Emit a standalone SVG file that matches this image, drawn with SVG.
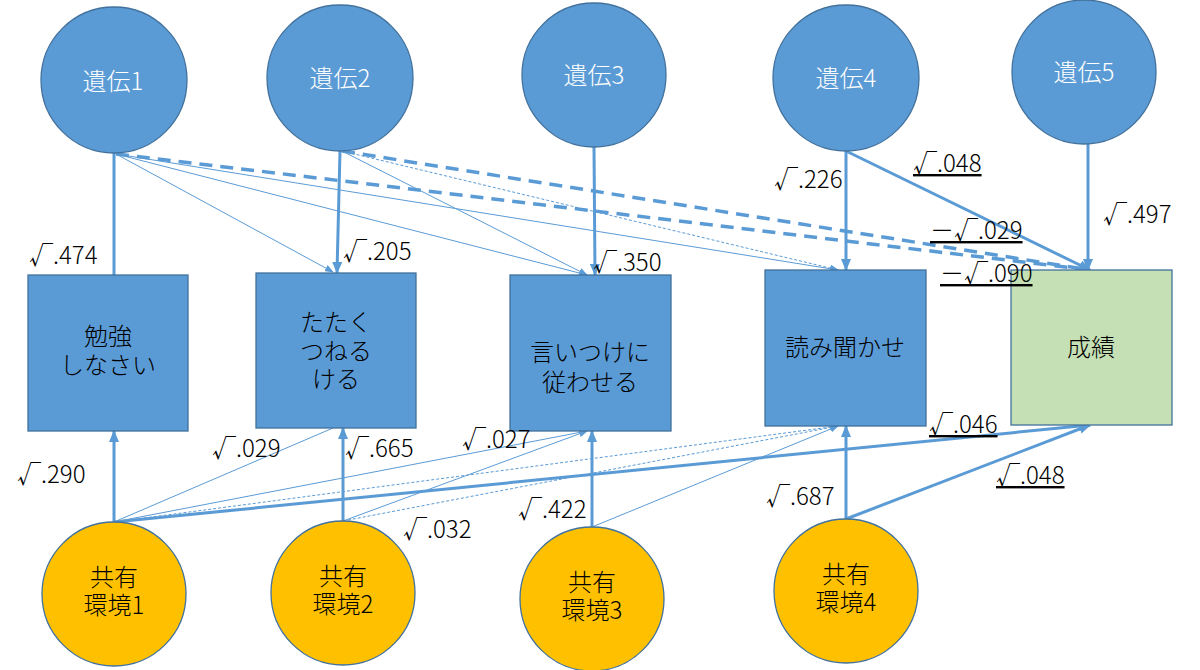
<svg xmlns="http://www.w3.org/2000/svg" width="1200" height="670" viewBox="0 0 1200 670">
<defs>
<style>
.n{fill:#5B9BD5;stroke:#41719C;stroke-width:1.3}
.o{fill:#FFC000;stroke:#41719C;stroke-width:1.3}
.g{fill:#C5E0B4;stroke:#41719C;stroke-width:1.3}
text{font-family:"Noto Sans CJK JP","Noto Sans",sans-serif;font-size:24px;font-weight:300}
.w{fill:#FFFFFF;text-anchor:middle}
.b{fill:#000000;text-anchor:middle}
.l{fill:#000000}
.u{text-decoration:underline}
.t{stroke:#5B9BD5;stroke-width:3;fill:none}
.d{stroke:#5B9BD5;stroke-width:3.5;stroke-dasharray:13 8;fill:none}
.s{stroke:#5B9BD5;stroke-width:1;fill:none}
.p{stroke:#5B9BD5;stroke-width:1;stroke-dasharray:3 2;fill:none}
</style>
<marker id="ah" markerUnits="userSpaceOnUse" markerWidth="12" markerHeight="10" refX="11" refY="5" orient="auto">
<path d="M0,0 L12,5 L0,10 z" fill="#5B9BD5"/>
</marker>
<marker id="ahs" markerUnits="userSpaceOnUse" markerWidth="9" markerHeight="7" refX="8" refY="3.5" orient="auto">
<path d="M0,0 L9,3.5 L0,7 z" fill="#5B9BD5"/>
</marker>
</defs>
<rect width="1200" height="670" fill="#FFFFFF"/>
<g id="connectors">
<line class="t" x1="114" y1="153" x2="114" y2="276"/>
<line class="t" x1="340" y1="151" x2="337" y2="273" marker-end="url(#ah)"/>
<line class="t" x1="594" y1="147" x2="595" y2="275" marker-end="url(#ah)"/>
<line class="t" x1="846" y1="151" x2="846" y2="270" marker-end="url(#ah)"/>
<line class="t" x1="846" y1="151" x2="1090" y2="270" marker-end="url(#ah)"/>
<line class="t" x1="1088" y1="144" x2="1088" y2="270" marker-end="url(#ah)"/>
<line class="d" x1="116" y1="154" x2="1090" y2="270" marker-end="url(#ah)"/>
<line class="d" x1="342" y1="151" x2="1090" y2="270" marker-end="url(#ah)"/>
<line class="s" x1="116" y1="154" x2="333" y2="272" marker-end="url(#ahs)"/>
<line class="s" x1="116" y1="154" x2="587" y2="275" marker-end="url(#ahs)"/>
<line class="s" x1="116" y1="154" x2="838" y2="270" marker-end="url(#ahs)"/>
<line class="s" x1="342" y1="151" x2="587" y2="275" marker-end="url(#ahs)"/>
<line class="p" x1="342" y1="151" x2="838" y2="270" marker-end="url(#ahs)"/>
<line class="t" x1="114" y1="522" x2="114" y2="431" marker-end="url(#ah)"/>
<line class="t" x1="114" y1="522" x2="1090" y2="425" marker-end="url(#ah)"/>
<line class="t" x1="343" y1="521" x2="343" y2="428" marker-end="url(#ah)"/>
<line class="t" x1="592" y1="527" x2="592" y2="431" marker-end="url(#ah)"/>
<line class="t" x1="846" y1="519" x2="846" y2="426" marker-end="url(#ah)"/>
<line class="t" x1="846" y1="519" x2="1090" y2="425" marker-end="url(#ah)"/>
<line class="s" x1="114" y1="522" x2="333" y2="428"/>
<line class="s" x1="114" y1="522" x2="587" y2="431" marker-end="url(#ahs)"/>
<line class="s" x1="343" y1="521" x2="587" y2="431" marker-end="url(#ahs)"/>
<line class="s" x1="592" y1="527" x2="838" y2="426" marker-end="url(#ahs)"/>
<line class="p" x1="114" y1="522" x2="838" y2="426" marker-end="url(#ahs)"/>
<line class="p" x1="343" y1="521" x2="838" y2="426" marker-end="url(#ahs)"/>
</g>
<g id="g1"><circle class="n" cx="114" cy="80" r="73"/><text class="w" x="113" y="90">遺伝1</text></g>
<g id="g2"><circle class="n" cx="340" cy="78" r="73"/><text class="w" x="340" y="87">遺伝2</text></g>
<g id="g3"><circle class="n" cx="594" cy="75" r="72"/><text class="w" x="594" y="84">遺伝3</text></g>
<g id="g4"><circle class="n" cx="846" cy="78" r="73"/><text class="w" x="846" y="87">遺伝4</text></g>
<g id="g5"><circle class="n" cx="1084" cy="72" r="72"/><text class="w" x="1084" y="81">遺伝5</text></g>
<g id="benkyo"><rect class="n" x="28" y="275" width="160" height="156"/><text class="b" x="108" y="345">勉強</text><text class="b" x="108" y="374">しなさい</text></g>
<g id="tataku"><rect class="n" x="256" y="273" width="160" height="155"/><text class="b" x="336" y="331">たたく</text><text class="b" x="336" y="360">つねる</text><text class="b" x="336" y="388">ける</text></g>
<g id="iitsuke"><rect class="n" x="510" y="275" width="161" height="156"/><text class="b" x="590" y="361">言いつけに</text><text class="b" x="590" y="391">従わせる</text></g>
<g id="yomikikase"><rect class="n" x="765" y="270" width="161" height="156"/><text class="b" x="845" y="356">読み聞かせ</text></g>
<g id="seiseki"><rect class="g" x="1011" y="270" width="161" height="155"/><text class="b" x="1091" y="356">成績</text></g>
<g id="e1"><circle class="o" cx="114" cy="594" r="72"/><text class="b" x="114" y="586">共有</text><text class="b" x="114" y="614">環境1</text></g>
<g id="e2"><circle class="o" cx="343" cy="593" r="72"/><text class="b" x="343" y="585">共有</text><text class="b" x="343" y="613">環境2</text></g>
<g id="e3"><circle class="o" cx="592" cy="599" r="72"/><text class="b" x="592" y="591">共有</text><text class="b" x="592" y="619">環境3</text></g>
<g id="e4"><circle class="o" cx="846" cy="591" r="72"/><text class="b" x="846" y="583">共有</text><text class="b" x="846" y="611">環境4</text></g>
<g id="labels">
<text class="l" x="29" y="264">√.474</text>
<text class="l" x="343" y="260">√.205</text>
<text class="l" x="593" y="271">√.350</text>
<text class="l" x="774" y="188">√.226</text>
<text class="l u" x="913" y="172">√.048</text>
<text class="l" x="1103" y="223">√.497</text>
<text class="l u" x="930" y="239">－√.029</text>
<text class="l u" x="940" y="282">－√.090</text>
<text class="l" x="17" y="483">√.290</text>
<text class="l" x="212" y="457">√.029</text>
<text class="l" x="345" y="457">√.665</text>
<text class="l" x="462" y="448">√.027</text>
<text class="l" x="403" y="538">√.032</text>
<text class="l" x="518" y="518">√.422</text>
<text class="l" x="766" y="505">√.687</text>
<text class="l u" x="929" y="433">√.046</text>
<text class="l u" x="996" y="484">√.048</text>
</g>
</svg>
